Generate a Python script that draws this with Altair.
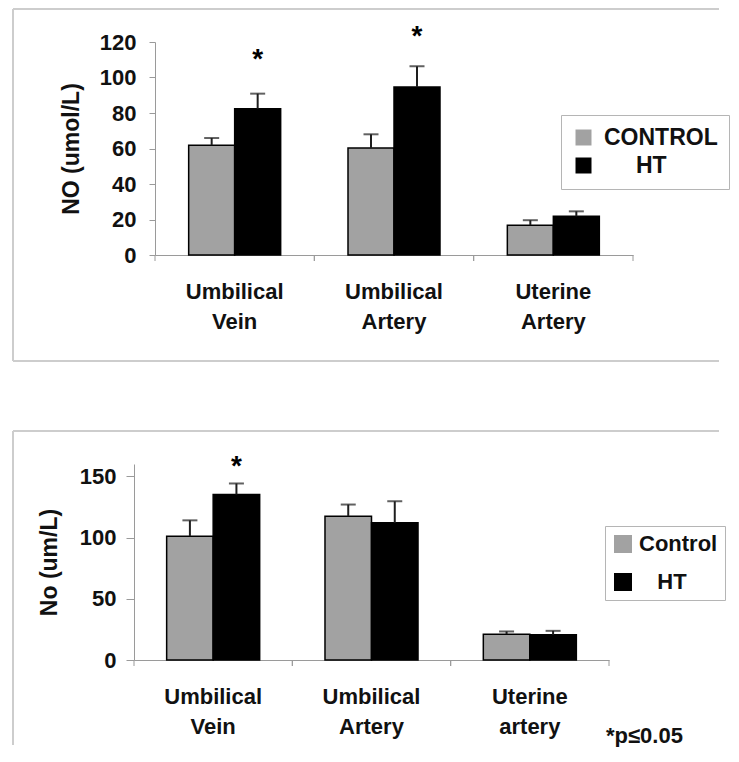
import altair as alt
import pandas as pd

FONT = "Liberation Sans"

# ---------------- data ----------------
top_categories = ["Umbilical Vein", "Umbilical Artery", "Uterine Artery"]
top_groups = ["CONTROL", "HT"]
top_control = [61.8, 60.3, 16.8]
top_control_se = [4.1, 7.7, 2.8]
top_ht = [82.4, 94.6, 21.8]
top_ht_se = [8.5, 11.7, 2.8]
top_star_categories = ["Umbilical Vein", "Umbilical Artery"]
top_star_y = [112.7, 125.5]
top_yticks = [0, 20, 40, 60, 80, 100, 120]

bot_categories = ["Umbilical Vein", "Umbilical Artery", "Uterine artery"]
bot_groups = ["Control", "HT"]
bot_control = [101.1, 117.4, 21.1]
bot_control_se = [12.9, 9.5, 2.2]
bot_ht = [135.1, 112.0, 20.6]
bot_ht_se = [9.0, 17.6, 3.2]
bot_star_categories = ["Umbilical Vein"]
bot_star_y = [162.0]
bot_yticks = [0, 50, 100, 150]

footnote = "*p≤0.05"
ZW = "\u200b"
NBSP = "\u00a0"


def panel(cats, groups, ctrl, ctrl_se, ht, ht_se, star_cats, star_y, ytitle,
          ymax, yticks, x0, x1, height, frame, legend_xy, legend_cfg,
          off_pad, tick_size, label_pad, title_pad, ht_shift, note=None, note_xy=None):
    rows = []
    for i, c in enumerate(cats):
        rows.append({"cat": c, "grp": groups[0], "value": ctrl[i], "upper": ctrl[i] + ctrl_se[i]})
        rows.append({"cat": c, "grp": groups[1], "value": ht[i], "upper": ht[i] + ht_se[i]})
    df = pd.DataFrame(rows)
    stars = pd.DataFrame({"cat": star_cats, "grp": [groups[1]] * len(star_cats), "y": star_y})
    catdf = pd.DataFrame({"cat": cats})
    one = pd.DataFrame({"d": [0]})

    xscale = alt.Scale(domain=cats, paddingInner=0, paddingOuter=0, range=[x0, x1])
    oscale = alt.Scale(domain=groups, paddingInner=0, paddingOuter=off_pad)
    yscale = alt.Scale(domain=[0, ymax], nice=False, zero=True)

    xaxis = alt.Axis(title=None, labelExpr="split(datum.label, ' ')", labelAngle=0,
                     labelFont=FONT, labelFontSize=22, labelFontWeight="bold",
                     labelColor="#111", labelLineHeight=30, labelPadding=26,
                     ticks=False, tickSize=0, domainColor="#9a9a9a", domainWidth=1,
                     grid=False)
    yaxis = alt.Axis(values=yticks, title=ytitle, titleFont=FONT, titleFontSize=23,
                     titleFontWeight="bold", titleColor="#111", titlePadding=title_pad,
                     labelFont=FONT, labelFontSize=22, labelFontWeight="bold",
                     labelColor="#111", labelPadding=label_pad, tickSize=tick_size,
                     labelOverlap=False, offset=-x0,
                     tickColor="#9a9a9a", domainColor="#9a9a9a", domainWidth=1,
                     grid=False)

    def X(**kw):
        return alt.X("cat:N", sort=cats, scale=xscale, axis=xaxis, **kw)

    def Y(field):
        return alt.Y(field, scale=yscale, axis=yaxis)

    XO = alt.XOffset("grp:N", sort=groups, scale=oscale)

    label_expr = ("datum.label == 'HT' ? '" + ZW + NBSP * ht_shift + "HT' : datum.label")
    legend = alt.Legend(title=None, orient="none", legendX=legend_xy[0], legendY=legend_xy[1],
                        direction="vertical", symbolType="square",
                        symbolSize=legend_cfg["sym"], symbolStrokeWidth=0,
                        labelFont=FONT, labelFontSize=legend_cfg["fs"], labelFontWeight="bold",
                        labelColor="#111", labelOffset=legend_cfg["off"],
                        rowPadding=legend_cfg["rp"], padding=legend_cfg["pad"],
                        strokeColor="#b5b5b5", fillColor="white", labelExpr=label_expr)

    bars = alt.Chart(df).mark_bar(stroke="black", strokeWidth=1.5).encode(
        x=X(), xOffset=XO, y=Y("value:Q"),
        color=alt.Color("grp:N", sort=groups,
                        scale=alt.Scale(domain=groups, range=["#a2a2a2", "#000000"]),
                        legend=legend),
    )
    err = alt.Chart(df).mark_rule(color="#1e1e1e", strokeWidth=2).encode(
        x=X(), xOffset=XO, y=Y("value:Q"), y2="upper:Q")
    cap = alt.Chart(df).mark_tick(color="#1e1e1e", thickness=2, size=15).encode(
        x=X(), xOffset=XO, y=Y("upper:Q"))
    star = alt.Chart(stars).mark_text(text="*", font=FONT, fontSize=28, fontWeight="bold",
                                      baseline="middle", dy=5, color="#000").encode(
        x=X(), xOffset=XO, y=Y("y:Q"))
    xt0 = alt.Chart(catdf).mark_rule(color="#9a9a9a", strokeWidth=1).encode(
        x=X(bandPosition=0), y=alt.value(height), y2=alt.value(height + 6))
    xt1 = alt.Chart(catdf).mark_rule(color="#9a9a9a", strokeWidth=1).encode(
        x=X(bandPosition=1), y=alt.value(height), y2=alt.value(height + 6))

    fl, ft, fr, fb = frame
    fc = "#cdcdcd"
    layers = [
        alt.Chart(one).mark_rule(color=fc, strokeWidth=2).encode(
            x=alt.value(fl), x2=alt.value(fr), y=alt.value(ft)),
        alt.Chart(one).mark_rule(color=fc, strokeWidth=2).encode(
            x=alt.value(fl), y=alt.value(ft), y2=alt.value(fb)),
    ]
    if note is None:
        layers.append(alt.Chart(one).mark_rule(color=fc, strokeWidth=2).encode(
            x=alt.value(fl), x2=alt.value(fr), y=alt.value(fb)))
    layers += [bars, err, cap, star, xt0, xt1]
    if note is not None:
        layers.append(alt.Chart(one).mark_text(text=note, font=FONT, fontSize=22,
                                               fontWeight="bold", align="left",
                                               baseline="alphabetic", color="#111").encode(
            x=alt.value(note_xy[0]), y=alt.value(note_xy[1])))
    return alt.layer(*layers).properties(width=x1, height=height)


# both panels share the same plot origin (page x = 154); the lower panel's axis
# is shifted 21px to the left through its scale range and axis offset
top = panel(top_categories, top_groups, top_control, top_control_se, top_ht, top_ht_se,
            top_star_categories, top_star_y, "NO (umol/L)", 120, top_yticks,
            0, 478, 213, (-142, -33, 564, 319), (406, 73),
            {"sym": 256, "off": 9, "rp": 4, "pad": 11, "fs": 23},
            0.732, 6, 13, 16, 5)

bottom = panel(bot_categories, bot_groups, bot_control, bot_control_se, bot_ht, bot_ht_se,
               bot_star_categories, bot_star_y, "No (um/L)", 160, bot_yticks,
               -21, 454, 196, (-142, -33, 564, 281), (450, 62),
               {"sym": 324, "off": 5, "rp": 16, "pad": 7, "fs": 22},
               0.702, 8, 10, 18, 3, note=footnote, note_xy=(451, 279))

chart = alt.concat(top, bottom, columns=1, spacing=68, bounds="full").resolve_scale(
    x="independent", y="independent", color="independent", xOffset="independent"
).resolve_legend(color="independent").properties(
    padding={"left": 4, "top": 0, "right": 0, "bottom": 0}
).configure_view(stroke=None)

chart.save("out.html", embed_options={"renderer": "svg", "actions": False})
